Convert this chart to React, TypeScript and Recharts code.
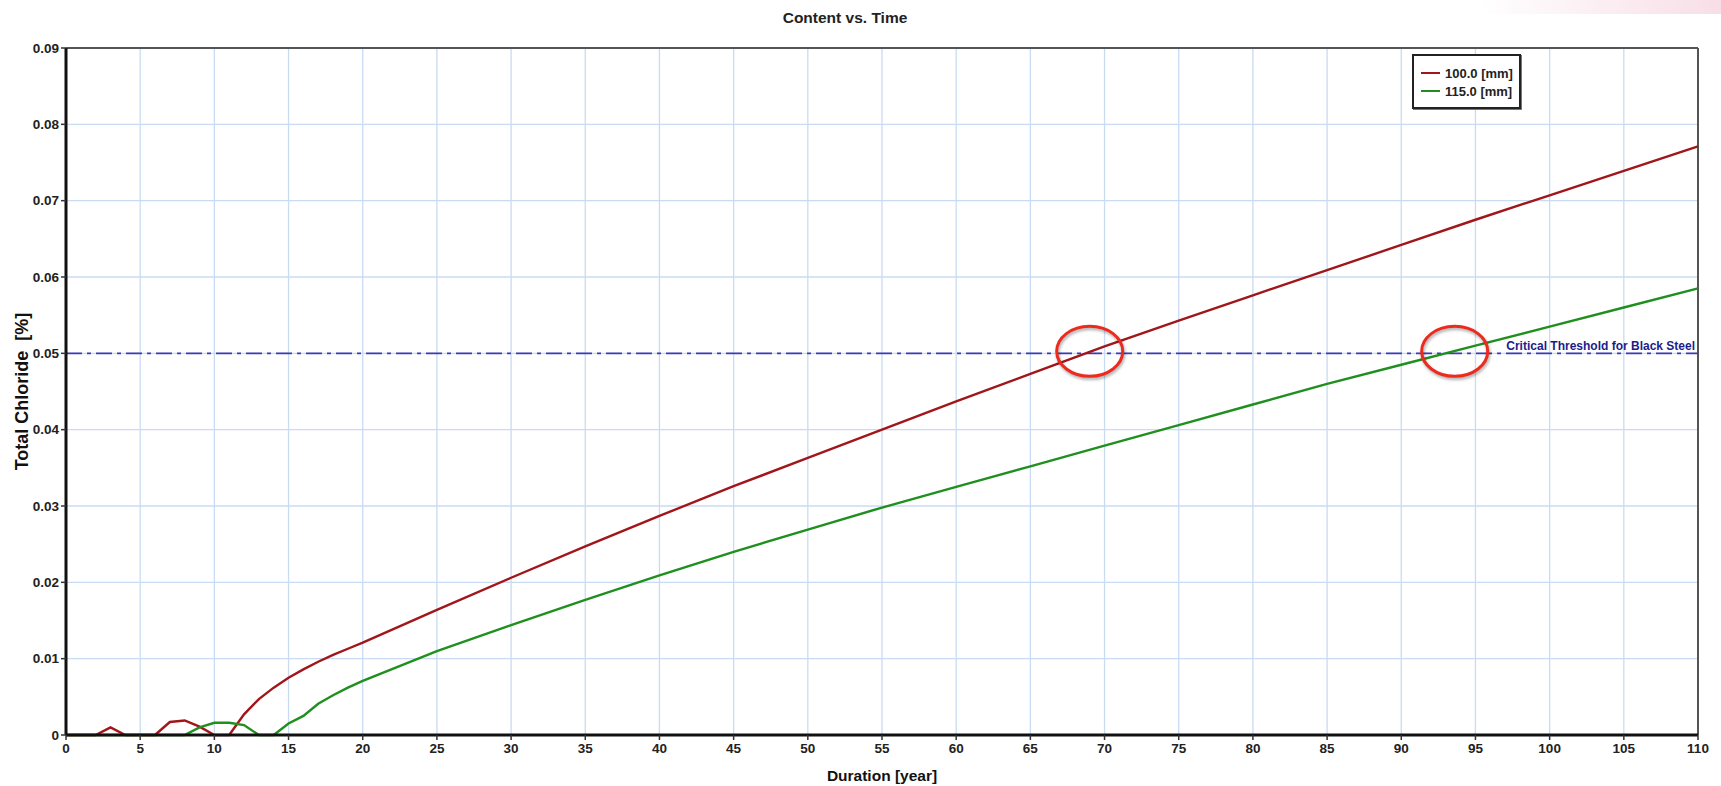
import React from 'react';
import {
  LineChart,
  Line,
  XAxis,
  YAxis,
  CartesianGrid,
  ReferenceLine,
  ReferenceDot,
  Label,
} from 'recharts';

// duration in years, 1-year steps early on, 5-year steps afterwards
const years = [
  0, 1, 2, 3, 4, 5, 6, 7, 8, 9, 10, 11, 12, 13, 14, 15, 16, 17, 18, 19, 20,
  25, 30, 35, 40, 45, 50, 55, 60, 65, 70, 75, 80, 85, 90, 95, 100, 105, 110,
];

// total chloride [%] at 100 mm depth
const chloride100 = [
  0, 0, 0, 0.001, 0, 0, 0, 0.0017, 0.0019, 0.0011, 0, 0, 0.0027, 0.0047, 0.0062, 0.0075, 0.0086, 0.0096, 0.0105, 0.0113, 0.0121,
  0.0164, 0.0206, 0.0247, 0.0287, 0.0326, 0.0363, 0.04, 0.0437, 0.0473, 0.0509, 0.0543, 0.0576, 0.0609, 0.0642, 0.0675, 0.0707, 0.0739, 0.0771,
];

// total chloride [%] at 115 mm depth
const chloride115 = [
  0, 0, 0, 0, 0, 0, 0, 0, 0, 0.001, 0.0016, 0.0016, 0.0013, 0, 0, 0.0015, 0.0025, 0.0041, 0.0052, 0.0062, 0.0071,
  0.011, 0.0144, 0.0177, 0.0209, 0.024, 0.0269, 0.0298, 0.0325, 0.0352, 0.0379, 0.0406, 0.0433, 0.046, 0.0485, 0.051, 0.0535, 0.056, 0.0585,
];

const xTicks = [0, 5, 10, 15, 20, 25, 30, 35, 40, 45, 50, 55, 60, 65, 70, 75, 80, 85, 90, 95, 100, 105, 110];
const yTicks = [0, 0.01, 0.02, 0.03, 0.04, 0.05, 0.06, 0.07, 0.08, 0.09];

const threshold = 0.05;
// years where the curves cross the threshold (circled)
const crossings = [69, 93.6];

const seriesNames = ['100.0 [mm]', '115.0 [mm]'];
const RED = '#a0161a';
const GREEN = '#1f8f1f';

const sans = "'Liberation Sans', Arial, sans-serif";

const data = years.map((year, i) => ({
  year,
  d100: chloride100[i],
  d115: chloride115[i],
}));

const LegendBox = () => (
  <div
    style={{
      position: 'absolute',
      left: 1412,
      top: 54,
      width: 105,
      height: 51,
      border: '2px solid #222',
      boxShadow: '1px 1px 0 #777',
      background: '#fff',
      fontFamily: sans,
      fontWeight: 700,
      fontSize: 13,
      color: '#222',
    }}
  >
    {seriesNames.map((name, i) => (
      <div
        key={name}
        style={{
          position: 'absolute',
          left: 7,
          top: 9 + i * 18,
          height: 16,
          display: 'flex',
          alignItems: 'center',
          whiteSpace: 'nowrap',
        }}
      >
        <span
          style={{
            display: 'inline-block',
            width: 19,
            height: 2.5,
            background: i === 0 ? RED : GREEN,
            marginRight: 5,
          }}
        />
        <span>{name}</span>
      </div>
    ))}
  </div>
);

const Ellipse = (props: any) => (
  <ellipse
    cx={props.cx}
    cy={props.cy - 2}
    rx={33}
    ry={25}
    fill="none"
    stroke="#ec2a1e"
    strokeWidth={3}
    style={{ filter: 'drop-shadow(1px 2px 1.5px rgba(0,0,0,0.35))' }}
  />
);

const tickStyle = { fill: '#222', fontFamily: sans, fontWeight: 700, fontSize: 13.5 };

export default function App() {
  return (
    <div style={{ position: 'absolute', left: 0, top: 0, width: 1721, height: 786, background: '#fff' }}>
      {/* faint pink tint in the top-right corner of the screenshot */}
      <div
        style={{
          position: 'absolute',
          left: 1480,
          top: 0,
          width: 241,
          height: 14,
          background: 'linear-gradient(to right, rgba(250,225,232,0), rgba(246,214,224,0.8))',
        }}
      />
      <div
        style={{
          position: 'absolute',
          left: 745,
          top: 9,
          width: 200,
          textAlign: 'center',
          fontFamily: sans,
          fontWeight: 700,
          fontSize: 15.5,
          color: '#222',
        }}
      >
        Content vs. Time
      </div>
      <LineChart
        width={1721}
        height={786}
        data={data}
        margin={{ top: 48, right: 23, bottom: 0, left: 0 }}
      >
        <CartesianGrid stroke="#c9dbf2" strokeWidth={1.3} />
        <XAxis
          dataKey="year"
          type="number"
          domain={[0, 110]}
          ticks={xTicks}
          interval={0}
          height={51}
          axisLine={{ stroke: '#111', strokeWidth: 3 }}
          tickLine={{ stroke: '#333', strokeWidth: 1.5 }}
          tickSize={5}
          tickMargin={3}
          tick={tickStyle}
        >
          <Label
            value="Duration [year]"
            position="insideBottom"
            offset={5}
            style={{ fill: '#111', fontFamily: sans, fontWeight: 700, fontSize: 15.5 }}
          />
        </XAxis>
        <YAxis
          type="number"
          domain={[0, 0.09]}
          ticks={yTicks}
          interval={0}
          width={66}
          axisLine={{ stroke: '#111', strokeWidth: 3 }}
          tickLine={{ stroke: '#333', strokeWidth: 1.5 }}
          tickSize={5}
          tickMargin={2}
          tickFormatter={(v: number) => (v === 0 ? '0' : v.toFixed(2))}
          tick={tickStyle}
        >
          <Label
            value={'Total Chloride\u00a0\u00a0[%]'}
            position="insideLeft"
            angle={-90}
            offset={22}
            style={{ textAnchor: 'middle', fill: '#111', fontFamily: sans, fontWeight: 700, fontSize: 18 }}
          />
        </YAxis>
        <ReferenceLine y={0.09} stroke="#555" strokeWidth={2} />
        <ReferenceLine x={110} stroke="#555" strokeWidth={2} />
        <ReferenceLine y={threshold} stroke="#3b3bb8" strokeWidth={1.6} strokeDasharray="16 5 4 5">
          <Label
            value="Critical Threshold for Black Steel"
            position="insideBottomRight"
            offset={3}
            style={{ fill: '#1c1c8a', fontFamily: sans, fontWeight: 700, fontSize: 12 }}
          />
        </ReferenceLine>
        <Line
          type="linear"
          dataKey="d100"
          name={seriesNames[0]}
          stroke={RED}
          strokeWidth={2.4}
          dot={false}
          isAnimationActive={false}
        />
        <Line
          type="linear"
          dataKey="d115"
          name={seriesNames[1]}
          stroke={GREEN}
          strokeWidth={2.4}
          dot={false}
          isAnimationActive={false}
        />
        {crossings.map((yr) => (
          <ReferenceDot key={yr} x={yr} y={threshold} r={30} shape={Ellipse} />
        ))}
      </LineChart>
      <LegendBox />
    </div>
  );
}
